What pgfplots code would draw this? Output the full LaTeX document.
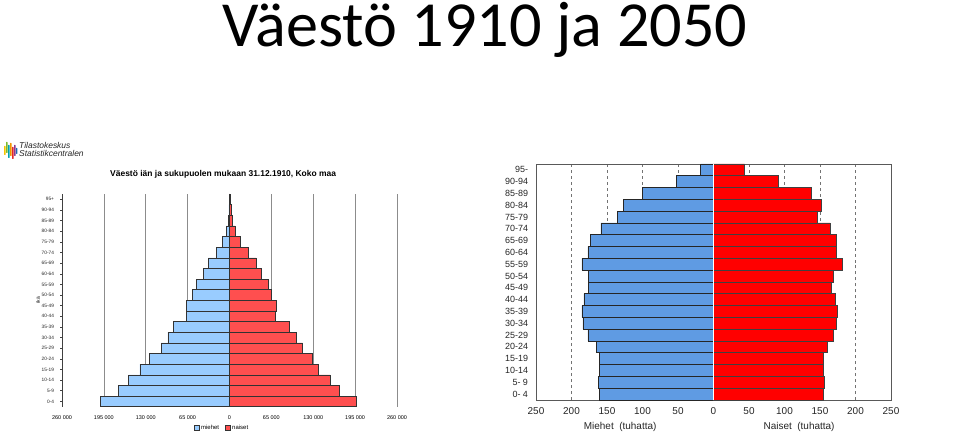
\documentclass[border=0pt]{standalone}
\usepackage{pgfplots}
\pgfplotsset{compat=1.18}
\usepackage{fontspec}
\setmainfont{Liberation Sans}
\newfontfamily\carlito{Carlito}
\definecolor{lblue}{HTML}{99CCFF}
\definecolor{lred}{HTML}{FF4F4F}
\definecolor{rblue}{HTML}{5F9BE3}
\definecolor{rred}{HTML}{FF0000}
\begin{document}
\begin{tikzpicture}[x=1bp,y=1bp]
\useasboundingbox (0,0) rectangle (960,435);
\fill[white] (0,0) rectangle (960,435);
\node[anchor=base, inner sep=0, font=\carlito\fontsize{64.5}{70}\selectfont] at (485,388) {Väestö 1910 ja 2050};
% logo
\fill[rounded corners=0.5bp,color={rgb,255:red,245;green,196;blue,0}] (4,280) rectangle (5.6,289);
\fill[rounded corners=0.5bp,color={rgb,255:red,125;green,186;blue,47}] (6,282) rectangle (7.6,293);
\fill[rounded corners=0.5bp,color={rgb,255:red,0;green,160;blue,176}] (8,277) rectangle (9.6,290);
\fill[rounded corners=0.5bp,color={rgb,255:red,243;green,146;blue,0}] (10,279) rectangle (11.6,292);
\fill[rounded corners=0.5bp,color={rgb,255:red,228;green,37;blue,42}] (12,276) rectangle (13.6,288);
\fill[rounded corners=0.5bp,color={rgb,255:red,139;green,58;blue,143}] (14,279) rectangle (15.6,290);
\fill[rounded corners=0.5bp,color={rgb,255:red,31;green,102;blue,177}] (16,281) rectangle (17.4,287);
\node[anchor=base west, inner sep=0, font=\fontsize{8.5}{9}\selectfont\itshape, text=black!85] at (19,286) {Tilastokeskus};
\node[anchor=base west, inner sep=0, font=\fontsize{8.5}{9}\selectfont\itshape, text=black!85] at (19,278) {Statistikcentralen};
\node[anchor=west, inner sep=0, font=\fontsize{8.5}{9}\selectfont\bfseries] at (110,260.7) {Väestö iän ja sukupuolen mukaan 31.12.1910, Koko maa};
% ---------- 1910 ----------
\begin{axis}[
  at={(62bp,28.3bp)}, anchor=south west, scale only axis,
  width=335bp, height=212.7bp,
  xbar, bar width=1, bar shift=0pt,
  xmin=-260000, xmax=260000, ymin=-0.5, ymax=19.5,
  axis x line*=bottom, axis y line*=left,
  x axis line style={draw=none},
  y axis line style={draw=black!75, line width=0.6bp},
  xtick={-260000,-195000,-130000,-65000,0,65000,130000,195000,260000},
  xticklabels={260 000,195 000,130 000,65 000,0,65 000,130 000,195 000,260 000},
  scaled x ticks=false,
  ytick={0,...,19},
  yticklabels={0-4,5-9,10-14,15-19,20-24,25-29,30-34,35-39,40-44,45-49,50-54,55-59,60-64,65-69,70-74,75-79,80-84,85-89,90-94,95+},
  xtick style={draw=none},
  ytick style={draw=black!75, line width=0.5bp},
  major tick length=2bp, tick align=outside,
  xmajorgrids, grid style={black!45, line width=0.7bp},
  xticklabel style={font=\fontsize{5.5}{6}\selectfont, yshift=-3.5bp},
  yticklabel style={font=\fontsize{4.8}{5}\selectfont, xshift=-2.5bp, text=black!85},
  ylabel={ikä},
  every axis y label/.style={at={(axis description cs:-0.0716,0.5)}, rotate=90, anchor=center, font=\fontsize{5}{6}\selectfont},
  legend style={at={(axis description cs:0.478,-0.1)}, anchor=center, draw=none, fill=none, legend columns=2, font=\fontsize{6}{7}\selectfont, /tikz/every even column/.append style={column sep=4bp}, inner sep=0pt},
  legend image code/.code={\draw[#1, line width=0.5bp] (0bp,-2.3bp) rectangle (4.6bp,2.3bp);},
  clip=false,
]
\addplot[fill=lblue, draw=black!80, line width=0.5bp] coordinates {
(-200000,0) (-172600,1) (-156400,2) (-139300,3) (-123800,4) (-106200,5) (-95800,6) (-87600,7) (-66900,8) (-66900,9)
(-57500,10) (-51300,11) (-40400,12) (-32600,13) (-20700,14) (-10900,15) (-4700,16) (-2000,17) (-1000,18) (-300,19)};
\addlegendentry{miehet}
\addplot[fill=lred, draw=black!80, line width=0.5bp] coordinates {
(196500,0) (170600,1) (156100,2) (137500,3) (128100,4) (113600,5) (103300,6) (92400,7) (71600,8) (73100,9)
(64400,10) (59700,11) (49800,12) (41500,13) (28600,14) (16600,15) (8300,16) (4700,17) (2000,18) (600,19)};
\addlegendentry{naiset}
\end{axis}
% ---------- 2050 ----------
\begin{axis}[
  at={(536bp,35bp)}, anchor=south west, scale only axis,
  width=355bp, height=236bp,
  xbar, bar width=1, bar shift=0pt,
  xmin=-250, xmax=250, ymin=-0.5, ymax=19.5,
  axis line style={draw=black!65, line width=0.8bp},
  xtick={-250,-200,-150,-100,-50,0,50,100,150,200,250},
  xticklabels={250,200,150,100,50,0,50,100,150,200,250},
  ytick={0,...,19},
  yticklabels={0- 4,5- 9,10-14,15-19,20-24,25-29,30-34,35-39,40-44,45-49,50-54,55-59,60-64,65-69,70-74,75-79,80-84,85-89,90-94,95-},
  major tick length=0pt,
  xmajorgrids, grid style={black!55, dashed, line width=0.5bp},
  xticklabel style={font=\fontsize{10}{11}\selectfont, yshift=-4.5bp, text=black!85},
  yticklabel style={font=\fontsize{9}{10}\selectfont, xshift=-4.5bp, text=black!85},
  clip=false,
]
\addplot[fill=rblue, draw=black!85, line width=0.7bp] coordinates {
(-160.5,0) (-162,1) (-160.5,2) (-160.5,3) (-164.8,4) (-176.9,5) (-184,6) (-185.4,7) (-182.5,8) (-176,9)
(-176,10) (-185.4,11) (-176.9,12) (-173.2,13) (-158.6,14) (-135.2,15) (-126.8,16) (-100.4,17) (-52,18) (-18.3,19)};
\addplot[fill=rred, draw=black!75, line width=0.7bp] coordinates {
(154.5,0) (156.3,1) (154.9,2) (154,3) (159.7,4) (168.1,5) (172.8,6) (174.2,7) (170.9,8) (166.2,9)
(168.1,10) (181.2,11) (172.3,12) (172.3,13) (164.3,14) (146.4,15) (151.6,16) (138,17) (91.5,18) (43.7,19)};
\draw[white, line width=1bp] (axis cs:0,-0.5) -- (axis cs:0,19.5);
\node[font=\fontsize{10}{11}\selectfont, text=black!85] at (axis description cs:0.237,-0.114) {Miehet\ \ (tuhatta)};
\node[font=\fontsize{10}{11}\selectfont, text=black!85] at (axis description cs:0.741,-0.114) {Naiset\ \ (tuhatta)};
\end{axis}
\end{tikzpicture}
\end{document}
